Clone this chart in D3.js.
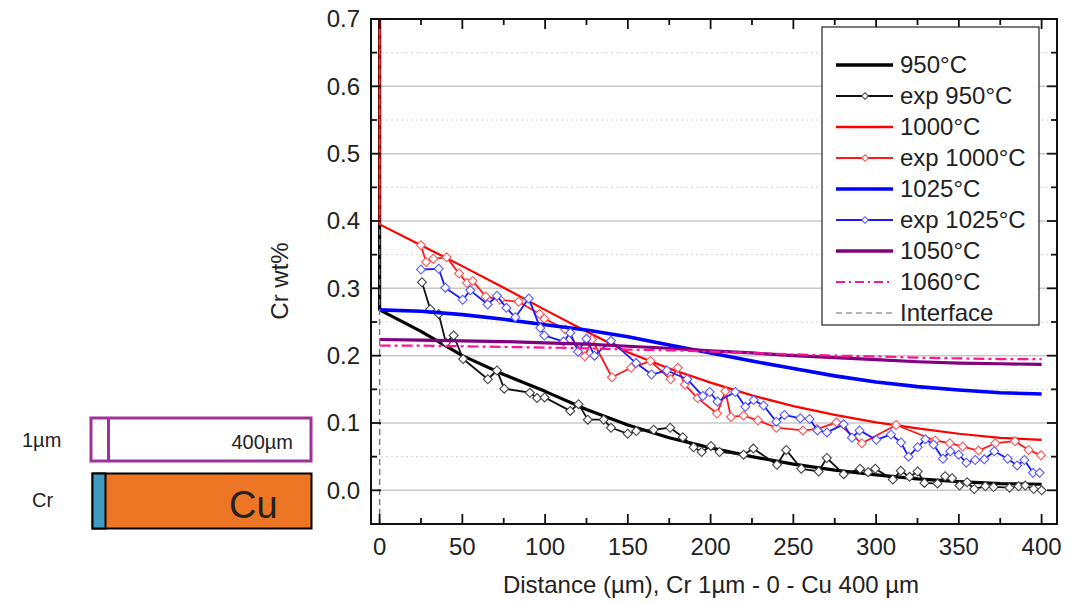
<!DOCTYPE html>
<html>
<head>
<meta charset="utf-8">
<script src="https://cdn.jsdelivr.net/npm/d3@7"></script>
<style>
  body { margin: 0; background: #fff; }
  svg text { font-family: "Liberation Sans", Arial, sans-serif; fill: #222; }
</style>
</head>
<body>
<div id="chart"></div>
<script>
// Distance grid for the model curves (um)
const distModel = [0, 25, 50, 75, 100, 125, 150, 175, 200, 225, 250, 275, 300, 325, 350, 375, 400];

// Model curves (Cr wt%)
const model950  = [0.268, 0.236, 0.200, 0.172, 0.147, 0.120, 0.097, 0.078, 0.063, 0.050, 0.039, 0.030, 0.023, 0.017, 0.013, 0.010, 0.009];
const model1000 = [0.395, 0.364, 0.333, 0.301, 0.268, 0.236, 0.205, 0.181, 0.160, 0.141, 0.125, 0.112, 0.101, 0.092, 0.084, 0.078, 0.075];
const model1025 = [0.268, 0.266, 0.261, 0.254, 0.246, 0.238, 0.228, 0.216, 0.204, 0.192, 0.181, 0.170, 0.161, 0.154, 0.149, 0.145, 0.143];
const model1050 = [0.224, 0.223, 0.222, 0.221, 0.219, 0.217, 0.214, 0.211, 0.207, 0.204, 0.200, 0.197, 0.194, 0.191, 0.189, 0.188, 0.187];
const model1060 = [0.215, 0.215, 0.214, 0.213, 0.212, 0.211, 0.209, 0.208, 0.206, 0.204, 0.202, 0.200, 0.199, 0.197, 0.196, 0.195, 0.195];

// Value inside the Cr layer (off the top of the chart)
const crLayerValue = 0.8;

// Experimental profiles
const exp950X = [25.6, 30.6, 35.7, 40.1, 44.7, 50.5, 65.4, 70.9, 75.3, 90.8, 95.1, 99.7, 115.2, 120.2, 125.8, 135.4, 139.8,
  149.9, 155.1, 165.6, 175.6, 183.2, 189.7, 194.6, 200.2, 205.4, 219.9, 225.8, 240.1, 245.7, 254.8, 265.3, 270.2,
  280.4, 290.3, 295.2, 299.5, 310.1, 314.9, 320.2, 325.1, 329.2, 337.1, 341.7, 345.9, 350.4, 355.0, 359.3, 366.0,
  371.0, 380.6, 386.1, 390.1, 395.2, 400.0];
const exp950Y = [0.309, 0.269, 0.262, 0.219, 0.230, 0.195, 0.165, 0.178, 0.151, 0.145, 0.137, 0.138, 0.118, 0.128, 0.105, 0.105, 0.093,
  0.084, 0.088, 0.090, 0.093, 0.079, 0.064, 0.057, 0.066, 0.057, 0.053, 0.062, 0.038, 0.060, 0.032, 0.028, 0.048,
  0.024, 0.032, 0.027, 0.032, 0.016, 0.029, 0.020, 0.028, 0.011, 0.010, 0.021, 0.018, 0.007, 0.012, 0.002, 0.006,
  0.005, 0.004, 0.006, 0.007, 0.002, 0.000];

const exp1000X = [25.0, 28.1, 32.5, 40.5, 48.0, 52.8, 56.2, 64.1, 72.9, 84.0, 96.6, 99.5, 112.2, 124.0, 128.3, 140.4, 151.9,
  163.6, 175.8, 180.2, 184.4, 192.1, 203.9, 208.9, 212.3, 219.9, 228.6, 239.7, 255.8, 264.3, 276.0, 291.4, 312.1,
  335.7, 344.5, 352.3, 361.9, 372.0, 383.9, 392.2, 399.6];
const exp1000Y = [0.364, 0.339, 0.344, 0.346, 0.322, 0.308, 0.311, 0.288, 0.283, 0.280, 0.262, 0.255, 0.239, 0.199, 0.224, 0.168, 0.182,
  0.192, 0.165, 0.182, 0.157, 0.137, 0.114, 0.147, 0.109, 0.111, 0.104, 0.093, 0.089, 0.091, 0.101, 0.070, 0.097,
  0.074, 0.070, 0.065, 0.059, 0.070, 0.073, 0.060, 0.052];

const exp1025X = [25.0, 35.7, 39.7, 50.2, 54.8, 65.3, 70.9, 76.6, 82.0, 90.1, 97.1, 99.5, 111.2, 115.2, 119.9, 125.0, 129.8,
  139.8, 155.0, 164.3, 173.6, 185.9, 195.3, 199.4, 204.2, 214.9, 221.0, 226.0, 232.0, 239.7, 244.6, 254.2, 259.8,
  264.6, 270.3, 280.4, 285.4, 290.0, 300.1, 309.0, 315.0, 319.6, 325.1, 329.7, 334.7, 340.4, 344.8, 349.9, 354.5,
  359.9, 365.4, 371.4, 379.5, 385.2, 389.6, 394.8, 398.8];
const exp1025Y = [0.328, 0.329, 0.301, 0.283, 0.297, 0.276, 0.289, 0.271, 0.257, 0.285, 0.241, 0.230, 0.221, 0.234, 0.206, 0.225, 0.200,
  0.222, 0.189, 0.172, 0.178, 0.165, 0.140, 0.146, 0.132, 0.146, 0.124, 0.134, 0.126, 0.102, 0.112, 0.107, 0.106,
  0.089, 0.086, 0.098, 0.078, 0.089, 0.075, 0.083, 0.071, 0.050, 0.064, 0.076, 0.068, 0.047, 0.058, 0.053, 0.041,
  0.045, 0.046, 0.058, 0.047, 0.037, 0.045, 0.026, 0.026];

// Axis ticks
const xMajorTicks = [0, 50, 100, 150, 200, 250, 300, 350, 400];
const xMinorTicks = [25, 75, 125, 175, 225, 275, 325, 375];
const yMajorTicks = [0.0, 0.1, 0.2, 0.3, 0.4, 0.5, 0.6, 0.7];
const yMinorTicks = [0.05, 0.15, 0.25, 0.35, 0.45, 0.55, 0.65];

// Legend labels
const legendLabels = ["950°C", "exp 950°C", "1000°C", "exp 1000°C", "1025°C", "exp 1025°C", "1050°C", "1060°C", "Interface"];

const W = 1073, H = 604;
const plot = {left: 371, top: 19, right: 1057, bottom: 524};
const FONT = 24;

const svg = d3.select("#chart").append("svg")
    .attr("width", W)
    .attr("height", H);

const x = d3.scaleLinear().domain([-5.2, 409.3]).range([plot.left, plot.right]);
const y = d3.scaleLinear().domain([-0.05, 0.7]).range([plot.bottom, plot.top]);

svg.append("clipPath").attr("id", "plotClip")
  .append("rect")
    .attr("x", plot.left).attr("y", plot.top)
    .attr("width", plot.right - plot.left).attr("height", plot.bottom - plot.top);

// Grid lines
const grid = svg.append("g");
grid.selectAll("line.minor").data(yMinorTicks).enter().append("line")
    .attr("x1", plot.left).attr("x2", plot.right)
    .attr("y1", d => y(d)).attr("y2", d => y(d))
    .attr("stroke", "#d4d4d4").attr("stroke-width", 1).attr("stroke-dasharray", "2,3");
grid.selectAll("line.major").data(yMajorTicks.slice(0, -1)).enter().append("line")
    .attr("x1", plot.left).attr("x2", plot.right)
    .attr("y1", d => y(d)).attr("y2", d => y(d))
    .attr("stroke", "#c8c8c8").attr("stroke-width", 1.5);

const line = d3.line().x(d => x(d[0])).y(d => y(d[1]));
const curves = svg.append("g").attr("clip-path", "url(#plotClip)");

/**
* Draw one model curve, optionally starting from inside the Cr layer
*/
const drawModel = function(values, color, width, dash, fromLayer){
    const pts = distModel.map((d, i) => [d, values[i]]);
    if (fromLayer) pts.unshift([0, crLayerValue]);
    curves.append("path")
        .datum(pts)
        .attr("d", line)
        .attr("fill", "none")
        .attr("stroke", color)
        .attr("stroke-width", width)
        .attr("stroke-dasharray", dash)
        .attr("stroke-linejoin", "round");
}

const diamond = d3.symbol().type(d3.symbolSquare).size(40);

/**
* Draw an experimental profile: thin line plus hollow diamonds
*/
const drawExp = function(xs, ys, lineColor, markColor){
    const pts = xs.map((d, i) => [d, ys[i]]);
    curves.append("path")
        .datum(pts)
        .attr("d", line)
        .attr("fill", "none")
        .attr("stroke", lineColor)
        .attr("stroke-width", 1.8)
        .attr("stroke-linejoin", "round");
    curves.append("g").selectAll("path").data(pts).enter().append("path")
        .attr("d", diamond)
        .attr("transform", d => "translate(" + x(d[0]) + "," + y(d[1]) + ") rotate(45)")
        .attr("fill", "#fff")
        .attr("stroke", markColor)
        .attr("stroke-width", 1.1);
}

drawModel(model950, "#000", 3.2, null, true);
drawExp(exp950X, exp950Y, "#111", "#444");
drawModel(model1000, "#ff0000", 2.2, null, true);
drawExp(exp1000X, exp1000Y, "#ff1a1a", "#ff5555");
drawModel(model1025, "#0000ff", 3.6, null, false);
drawExp(exp1025X, exp1025Y, "#1a1aff", "#5a5aff");
drawModel(model1050, "#800080", 3.2, null, false);
drawModel(model1060, "#ff1493", 2.2, "11,4,3,4", false);

// Interface
curves.append("line")
    .attr("x1", x(0)).attr("x2", x(0))
    .attr("y1", plot.top).attr("y2", plot.bottom)
    .attr("stroke", "#777").attr("stroke-width", 1.4).attr("stroke-dasharray", "6,4");

// Frame and ticks
const axes = svg.append("g").attr("stroke", "#111");
axes.append("rect")
    .attr("x", plot.left).attr("y", plot.top)
    .attr("width", plot.right - plot.left).attr("height", plot.bottom - plot.top)
    .attr("fill", "none").attr("stroke-width", 2);

[[xMajorTicks, 10], [xMinorTicks, 6]].forEach(function(t){
    axes.selectAll(null).data(t[0]).enter().append("line")
        .attr("x1", d => x(d)).attr("x2", d => x(d))
        .attr("y1", plot.bottom).attr("y2", plot.bottom - t[1])
        .attr("stroke-width", 1.8);
    axes.selectAll(null).data(t[0]).enter().append("line")
        .attr("x1", d => x(d)).attr("x2", d => x(d))
        .attr("y1", plot.top).attr("y2", plot.top + t[1])
        .attr("stroke-width", 1.8);
});
[[yMajorTicks, 10], [yMinorTicks, 6]].forEach(function(t){
    axes.selectAll(null).data(t[0]).enter().append("line")
        .attr("x1", plot.left).attr("x2", plot.left + t[1])
        .attr("y1", d => y(d)).attr("y2", d => y(d))
        .attr("stroke-width", 1.8);
    axes.selectAll(null).data(t[0]).enter().append("line")
        .attr("x1", plot.right).attr("x2", plot.right - t[1])
        .attr("y1", d => y(d)).attr("y2", d => y(d))
        .attr("stroke-width", 1.8);
});

// Tick labels
svg.append("g").selectAll("text").data(yMajorTicks).enter().append("text")
    .attr("x", 360).attr("y", d => y(d))
    .attr("dy", "0.35em")
    .attr("text-anchor", "end")
    .attr("font-size", FONT)
    .text(d3.format(".1f"));
svg.append("g").selectAll("text").data(xMajorTicks).enter().append("text")
    .attr("x", d => x(d)).attr("y", 555)
    .attr("text-anchor", "middle")
    .attr("font-size", FONT)
    .text(d => d);

// Axis titles
svg.append("text")
    .attr("transform", "translate(288,281) rotate(-90)")
    .attr("text-anchor", "middle")
    .attr("font-size", FONT)
    .text("Cr wt%");
svg.append("text")
    .attr("x", 711).attr("y", 593)
    .attr("text-anchor", "middle")
    .attr("font-size", FONT)
    .text("Distance (µm), Cr 1µm - 0 - Cu 400 µm");

// Legend
const legendStyles = [
    {color: "#000", width: 3.4},
    {color: "#111", width: 1.8, mark: "#444"},
    {color: "#ff0000", width: 2.4},
    {color: "#ff1a1a", width: 1.8, mark: "#ff5555"},
    {color: "#0000ff", width: 3.6},
    {color: "#1a1aff", width: 1.8, mark: "#5a5aff"},
    {color: "#800080", width: 3.4},
    {color: "#ff1493", width: 2.2, dash: "9,4,2,4"},
    {color: "#999", width: 1.6, dash: "6,4"}
];
const legend = svg.append("g");
legend.append("rect")
    .attr("x", 822).attr("y", 27).attr("width", 217).attr("height", 298)
    .attr("fill", "#fff").attr("stroke", "#222").attr("stroke-width", 1.2);
const rows = legend.selectAll("g.row").data(legendLabels).enter().append("g")
    .attr("transform", (d, i) => "translate(0," + (65 + i * 31) + ")");
rows.append("line")
    .attr("x1", 836).attr("x2", 893)
    .attr("stroke", (d, i) => legendStyles[i].color)
    .attr("stroke-width", (d, i) => legendStyles[i].width)
    .attr("stroke-dasharray", (d, i) => legendStyles[i].dash || null);
rows.filter((d, i) => legendStyles[i].mark).append("path")
    .attr("d", d3.symbol().type(d3.symbolSquare).size(22))
    .attr("transform", "translate(865,0) rotate(45)")
    .attr("fill", "#fff")
    .attr("stroke", d => legendStyles[legendLabels.indexOf(d)].mark)
    .attr("stroke-width", 1);
rows.append("text")
    .attr("x", 900).attr("dy", "0.35em")
    .attr("font-size", FONT)
    .text(d => d);

// Sample sketch at the lower left
const sketch = svg.append("g");
sketch.append("rect")
    .attr("x", 91).attr("y", 418).attr("width", 220).attr("height", 43)
    .attr("fill", "#fff").attr("stroke", "#a0309a").attr("stroke-width", 3);
sketch.append("line")
    .attr("x1", 108.5).attr("x2", 108.5).attr("y1", 418).attr("y2", 461)
    .attr("stroke", "#a0309a").attr("stroke-width", 3);
sketch.append("rect")
    .attr("x", 92.5).attr("y", 473.5).attr("width", 219).attr("height", 55)
    .attr("fill", "#ed7625").attr("stroke", "#000").attr("stroke-width", 2);
sketch.append("rect")
    .attr("x", 92.5).attr("y", 473.5).attr("width", 13).attr("height", 55)
    .attr("fill", "#3f9bbf").attr("stroke", "#000").attr("stroke-width", 2);
sketch.append("text").attr("x", 22).attr("y", 447).attr("font-size", 20).text("1µm");
sketch.append("text").attr("x", 293).attr("y", 449).attr("text-anchor", "end").attr("font-size", 20).text("400µm");
sketch.append("text").attr("x", 32).attr("y", 507).attr("font-size", 20).text("Cr");
sketch.append("text").attr("x", 229).attr("y", 518).attr("font-size", 38).text("Cu");
</script>
</body>
</html>
